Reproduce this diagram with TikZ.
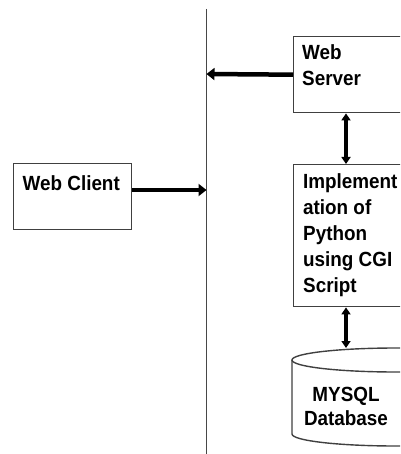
\documentclass[tikz,border=0pt]{standalone}
\usepackage{fontspec}
\setmainfont{Liberation Sans}[FakeStretch=0.92]
\usetikzlibrary{arrows.meta}
\begin{document}
\begin{tikzpicture}[x=1pt,y=-1pt,
  box/.style={draw=black!75, line width=1.4pt, fill=white, inner sep=0pt, anchor=north west},
  lbl/.style={font=\bfseries\fontsize{20.5}{25.8}\selectfont, align=left, inner sep=0pt, anchor=base west},
  bigarrow/.style={line width=4.5pt, -{Triangle[length=8pt,width=12pt]}},
  dblarrow/.style={line width=3.5pt, {Triangle[length=7pt,width=9pt]}-{Triangle[length=7pt,width=9pt]}},
  sep/.style={draw=black!72, line width=1.8pt}]
\useasboundingbox (0,0) rectangle (400,454);
\clip (0,0) rectangle (400,454);
% separator line
\coordinate (septop) at (206.5,9);
\coordinate (sepbot) at (206.5,460);
\draw[sep] (septop) -- (sepbot);
% boxes
\node[box, minimum width=227pt, minimum height=76pt] (server) at (293,36) {};
\node[box, minimum width=118pt, minimum height=66pt] (client) at (13,163) {};
\node[box, minimum width=227pt, minimum height=142pt] (impl) at (293,164) {};
% cylinder
\fill[white] (292,360) -- (292,434) arc[start angle=180,end angle=360,x radius=104pt,y radius=12pt] -- (500,360) -- cycle;
\draw[draw=black!75, line width=1.4pt] (292,360) -- (292,434)
  arc[start angle=180,end angle=360,x radius=104pt,y radius=12pt];
\draw[draw=black!75, line width=1.4pt] (396,360) ellipse [x radius=104pt, y radius=12pt];
\coordinate (dbtop) at (346,348);
% texts (base anchor = baseline of the last line)
\node[lbl, font=\bfseries\fontsize{20.5}{26}\selectfont] (servertxt) at (302,86) {Web\\Server};
\node[lbl] (clienttxt) at (22.5,190.5) {Web Client};
\node[lbl] (impltxt) at (303,292) {Implement\\ation of\\Python\\using CGI\\Script};
\node[font=\bfseries\fontsize{20.5}{23.4}\selectfont, align=center, inner sep=0pt, anchor=base] (dbtxt) at (346,425) {MYSQL\\Database};
% connectors
\coordinate (ax) at (346,0);
\coordinate (sa) at (206.5,74);
\coordinate (ca) at (206.5,190);
\draw[bigarrow] (server.west) -- (sa);
\draw[bigarrow] (client.east |- ca) -- (ca);
\draw[dblarrow] (server.south -| ax) -- (impl.north -| ax);
\draw[dblarrow] (impl.south -| ax) -- (dbtop);
\end{tikzpicture}
\end{document}
